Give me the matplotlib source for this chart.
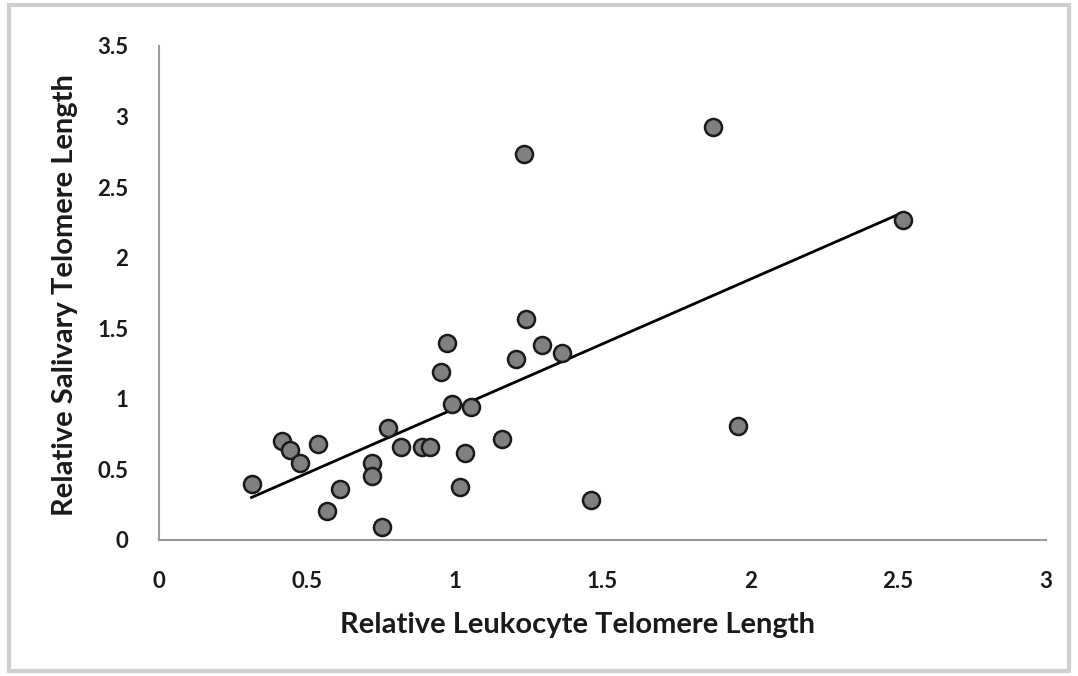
import numpy as np
import matplotlib.pyplot as plt
from matplotlib.patches import Rectangle

# ==================================
# DATA
# ==================================

leukocyte = [0.313, 0.415, 0.443, 0.477, 0.539, 0.567, 0.612, 0.719, 0.719, 0.755,
             0.776, 0.818, 0.890, 0.916, 0.953, 0.973, 0.990, 1.018, 1.035, 1.054,
             1.162, 1.207, 1.241, 1.296, 1.362, 1.461, 1.234, 1.873, 1.958, 2.516]
salivary = [0.397, 0.700, 0.638, 0.548, 0.680, 0.205, 0.359, 0.548, 0.456, 0.094,
            0.796, 0.661, 0.661, 0.661, 1.193, 1.394, 0.964, 0.378, 0.619, 0.940,
            0.718, 1.283, 1.566, 1.382, 1.323, 0.283, 2.736, 2.927, 0.808, 2.268]

x_ticks = [0, 0.5, 1, 1.5, 2, 2.5, 3]
x_tick_labels = ["0", "0.5", "1", "1.5", "2", "2.5", "3"]
y_ticks = [0, 0.5, 1, 1.5, 2, 2.5, 3, 3.5]
y_tick_labels = ["0", "0.5", "1", "1.5", "2", "2.5", "3", "3.5"]

# ==================================
# PLOT
# ==================================

plt.rcParams["font.family"] = ["Lato", "DejaVu Sans"]

fig = plt.figure(figsize=(10.78, 6.76), dpi=100)
ax = fig.add_axes([0.1475, 0.2012, 0.8225, 0.7308])

x = np.array(leukocyte)
y = np.array(salivary)

# linear trendline over the data range
slope, intercept = np.polyfit(x, y, 1)
xs = np.array([x.min(), x.max()])
ax.plot(xs, slope * xs + intercept, color="black", linewidth=2, zorder=2)

ax.scatter(x, y, s=150, facecolor="#808080", edgecolor="#1a1a1a",
           linewidth=1.8, zorder=3)

ax.set_xlim(0, 3)
ax.set_ylim(0, 3.5)
ax.set_xticks(x_ticks)
ax.set_xticklabels(x_tick_labels)
ax.set_yticks(y_ticks)
ax.set_yticklabels(y_tick_labels)

for side in ["top", "right"]:
    ax.spines[side].set_visible(False)
for side in ["left", "bottom"]:
    ax.spines[side].set_color("#9a9a9a")
    ax.spines[side].set_linewidth(1.5)

ax.tick_params(length=0, labelsize=16, colors="#1a1a1a")
ax.tick_params(axis="x", pad=22)
ax.tick_params(axis="y", pad=22)
for lbl in ax.get_xticklabels() + ax.get_yticklabels():
    lbl.set_fontweight("bold")

ax.set_xlabel("Relative Leukocyte Telomere Length", fontsize=21,
              fontweight="bold", color="#1a1a1a")
ax.set_ylabel("Relative Salivary Telomere Length", fontsize=21,
              fontweight="bold", color="#1a1a1a")
ax.xaxis.set_label_coords(0.472, -0.146)
ax.yaxis.set_label_coords(-0.091, 0.496)

# light grey frame around the whole chart
fig.patches.append(Rectangle((0.008, 0.008), 0.984, 0.984,
                             transform=fig.transFigure, fill=False,
                             edgecolor="#cfcfcf", linewidth=3))

plt.savefig("out.png", dpi=100)
